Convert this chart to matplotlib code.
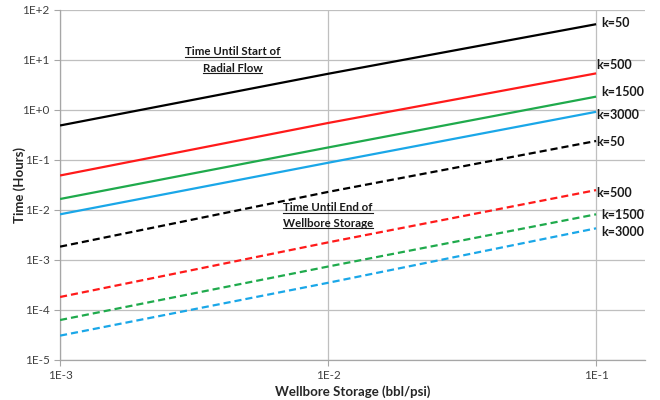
import matplotlib
matplotlib.use("Agg")
import matplotlib.pyplot as plt
from matplotlib.ticker import FixedLocator, NullLocator

plt.rcParams['font.family'] = ['Lato', 'DejaVu Sans']

# Data
storage = [1e-3, 1e-2, 1e-1]
k_values = ["k=50", "k=500", "k=1500", "k=3000"]
colors = ["#000000", "#FF1A1A", "#1FAA4C", "#1AA7E8"]

start_radial = {
    "k=50":   [0.49, 5.3, 52.0],
    "k=500":  [0.049, 0.55, 5.4],
    "k=1500": [0.0166, 0.178, 1.85],
    "k=3000": [0.0082, 0.088, 0.92],
}
end_wbs = {
    "k=50":   [0.00185, 0.023, 0.24],
    "k=500":  [0.000182, 0.00225, 0.025],
    "k=1500": [0.000063, 0.00074, 0.0082],
    "k=3000": [0.0000307, 0.00035, 0.0043],
}
label_y_solid = [55, 7.9, 2.3, 0.79]
label_y_dash = [0.23, 0.022, 0.0079, 0.0036]
label_x = [0.1045, 0.1005, 0.1045, 0.1005]
label_x_dash = [0.1005, 0.1005, 0.1045, 0.1045]

y_ticks = [1e-5, 1e-4, 1e-3, 1e-2, 1e-1, 1e0, 1e1, 1e2]
y_tick_labels = ["1E-5", "1E-4", "1E-3", "1E-2", "1E-1", "1E+0", "1E+1", "1E+2"]
x_ticks = [1e-3, 1e-2, 1e-1]
x_tick_labels = ["1E-3", "1E-2", "1E-1"]

fig = plt.figure(figsize=(6.6, 4.0), dpi=100)
ax = fig.add_axes([0.091, 0.10, 0.886, 0.875])
ax.set_xscale('log')
ax.set_yscale('log')
ax.set_xlim(1e-3, 0.152)
ax.set_ylim(1e-5, 1e2)

grid_col = "#BFBFBF"
for yt in y_ticks:
    ax.axhline(yt, color=grid_col, lw=0.9, zorder=0)
for xt in x_ticks:
    ax.axvline(xt, color=grid_col, lw=0.9, zorder=0)

for k, c in zip(k_values, colors):
    ax.plot(storage, start_radial[k], color=c, lw=1.6, solid_capstyle='butt', zorder=3)
    ax.plot(storage, end_wbs[k], color=c, lw=1.6, dashes=(3.2, 1.8), zorder=3)

for k, yl, xl in zip(k_values, label_y_solid, label_x):
    ax.text(xl, yl, k, fontsize=9, fontweight='bold', color="#1a1a1a",
            ha='left', va='center', clip_on=False)
for k, yl, xl in zip(k_values, label_y_dash, label_x_dash):
    ax.text(xl, yl, k, fontsize=9, fontweight='bold', color="#1a1a1a",
            ha='left', va='center', clip_on=False)

for s in ['top', 'right']:
    ax.spines[s].set_visible(False)
for s in ['left', 'bottom']:
    ax.spines[s].set_color("#A6A6A6")
    ax.spines[s].set_linewidth(0.9)

ax.yaxis.set_major_locator(FixedLocator(y_ticks))
ax.yaxis.set_minor_locator(NullLocator())
ax.set_yticklabels(y_tick_labels)
ax.xaxis.set_major_locator(FixedLocator(x_ticks))
ax.xaxis.set_minor_locator(NullLocator())
ax.set_xticklabels(x_tick_labels)
ax.tick_params(axis='both', which='major', length=4, color="#A6A6A6",
               labelsize=8.5, labelcolor="#404040", direction='out')

ax.set_ylabel("Time (Hours)", fontsize=9.5, fontweight='bold', color="#262626")
ax.yaxis.set_label_coords(-0.058, 0.5)
ax.set_xlabel("Wellbore Storage (bbl/psi)", fontsize=9.5, fontweight='bold', color="#262626", labelpad=3)

# Annotations with underline
annots = [
    (4.4e-3, 14.5, "Time Until Start of"),
    (4.4e-3, 6.9, "Radial Flow"),
    (1.0e-2, 1.1e-2, "Time Until End of"),
    (1.0e-2, 5.4e-3, "Wellbore Storage"),
]
texts = []
for x, y, s in annots:
    t = ax.text(x, y, s, fontsize=8.3, fontweight='bold', color="#1a1a1a",
                ha='center', va='center', zorder=5)
    texts.append(t)

fig.canvas.draw()
renderer = fig.canvas.get_renderer()
inv = fig.transFigure.inverted()
for t in texts:
    bb = t.get_window_extent(renderer)
    (x0, y0), (x1, y1) = inv.transform([[bb.x0, bb.y0], [bb.x1, bb.y1]])
    yline = y0 + (y1 - y0) * 0.06
    fig.add_artist(plt.Line2D([x0, x1], [yline, yline], transform=fig.transFigure,
                              color="#1a1a1a", lw=0.8))

fig.savefig("out.png", dpi=100)
